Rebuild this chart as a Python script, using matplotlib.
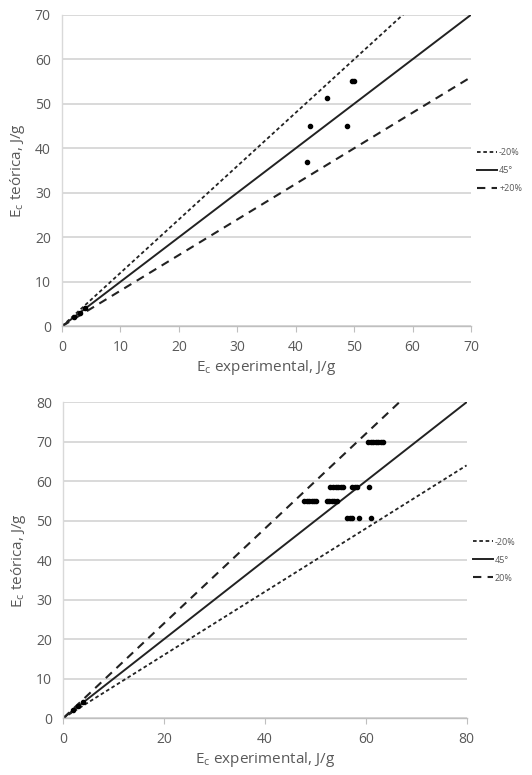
import matplotlib
matplotlib.use("Agg")
import matplotlib.pyplot as plt
import numpy as np

plt.rcParams['font.family'] = ['Open Sans', 'DejaVu Sans']

# ---- data ----
top_x = [2, 3, 4, 42.0, 42.4, 45.3, 48.8, 49.7, 49.9]
top_y = [2, 3, 4, 36.8, 45.0, 51.2, 45.0, 55.0, 55.0]
top_lim = 70
top_xticks = [0, 10, 20, 30, 40, 50, 60, 70]
top_yticks = [0, 10, 20, 30, 40, 50, 60, 70]
top_labels = ['-20%', '45°', '+20%']

bot_x = [2, 3, 4,
         60.5, 61.0, 61.5, 62.0, 62.5, 63.0, 63.5,
         53.0, 53.5, 54.0, 54.5, 55.0, 55.5, 57.3, 57.8, 58.3, 60.6,
         47.8, 48.3, 48.8, 49.3, 49.8, 50.2, 52.3, 52.8, 53.3, 53.8, 54.3,
         56.3, 56.8, 57.3, 58.7, 61.0]
bot_y = [2, 3, 4,
         70, 70, 70, 70, 70, 70, 70,
         58.4, 58.4, 58.4, 58.4, 58.4, 58.4, 58.4, 58.4, 58.4, 58.4,
         55, 55, 55, 55, 55, 55, 55, 55, 55, 55, 55,
         50.7, 50.7, 50.7, 50.7, 50.7]
bot_lim = 80
bot_xticks = [0, 20, 40, 60, 80]
bot_yticks = [0, 10, 20, 30, 40, 50, 60, 70, 80]
bot_labels = ['-20%', '45°', '20%']

factors = [1.2, 1.0, 0.8]

GRAY_TXT = '#595959'
GRID = '#d9d9d9'

fig = plt.figure(figsize=(5.32, 7.75), dpi=100)


def style_axes(ax, lim, xticks, yticks):
    ax.set_xlim(0, lim)
    ax.set_ylim(0, lim)
    ax.set_xticks(xticks)
    ax.set_yticks(yticks)
    ax.yaxis.grid(True, color=GRID, lw=1.4)
    ax.set_axisbelow(True)
    for s in ['top', 'right']:
        ax.spines[s].set_visible(False)
    ax.spines['left'].set_color(GRID)
    ax.spines['left'].set_linewidth(1.0)
    ax.spines['bottom'].set_color('#bfbfbf')
    ax.spines['bottom'].set_linewidth(1.0)
    ax.tick_params(axis='y', length=0, pad=8, labelsize=10, labelcolor=GRAY_TXT)
    ax.tick_params(axis='x', length=4, color='#bfbfbf', pad=6, labelsize=10, labelcolor=GRAY_TXT)
    ax.set_xlabel(r'E$_\mathregular{c}$ experimental, J/g', fontsize=11, color=GRAY_TXT, labelpad=2)
    ax.set_ylabel(r'E$_\mathregular{c}$ teórica, J/g', fontsize=11, color=GRAY_TXT, labelpad=6)


# top chart
ax1 = fig.add_axes([0.1165, 0.579, 0.769, 0.402])
style_axes(ax1, top_lim, top_xticks, top_yticks)
xx = np.array([0, top_lim])
l1, = ax1.plot(xx, factors[0] * xx, color='#222222', lw=1.3, ls=(0, (2, 1.5)), label=top_labels[0])
l2, = ax1.plot(xx, factors[1] * xx, color='#222222', lw=1.4, ls='-', label=top_labels[1])
l3, = ax1.plot(xx, factors[2] * xx, color='#222222', lw=1.5, ls=(0, (4, 3)), label=top_labels[2])
ax1.plot(top_x, top_y, 'o', color='black', ms=3.0, zorder=5)
ax1.legend(handles=[l1, l2, l3], loc='center left', bbox_to_anchor=(1.0, 0.5),
           frameon=False, fontsize=6.5, labelcolor=GRAY_TXT, handlelength=2.2,
           handletextpad=0.2, labelspacing=1.0, borderaxespad=0.3)

# bottom chart
ax2 = fig.add_axes([0.119, 0.0735, 0.758, 0.4075])
style_axes(ax2, bot_lim, bot_xticks, bot_yticks)
xx = np.array([0, bot_lim])
m1, = ax2.plot(xx, factors[2] * xx, color='#222222', lw=1.3, ls=(0, (2, 1.5)), label=bot_labels[0])
m2, = ax2.plot(xx, factors[1] * xx, color='#222222', lw=1.4, ls='-', label=bot_labels[1])
m3, = ax2.plot(xx, factors[0] * xx, color='#222222', lw=1.5, ls=(0, (4, 3)), label=bot_labels[2])
ax2.plot(bot_x, bot_y, 'o', color='black', ms=3.0, zorder=5)
ax2.legend(handles=[m1, m2, m3], loc='center left', bbox_to_anchor=(1.0, 0.5),
           frameon=False, fontsize=6.5, labelcolor=GRAY_TXT, handlelength=2.2,
           handletextpad=0.2, labelspacing=1.0, borderaxespad=0.3)

fig.savefig('out.png', dpi=100)
